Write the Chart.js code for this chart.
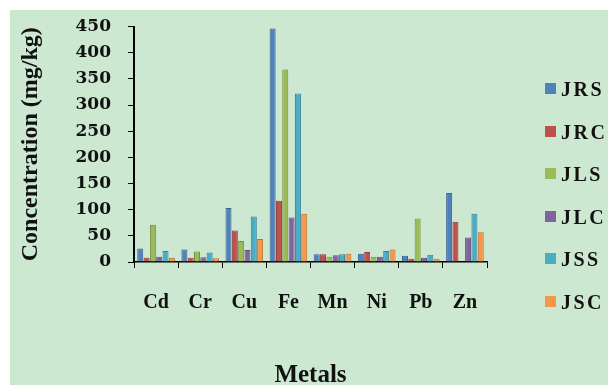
<!DOCTYPE html>
<html>
<head>
<meta charset="utf-8">
<script src="https://cdn.jsdelivr.net/npm/chart.js@4.4.1/dist/chart.umd.min.js"></script>
<style>
  html, body { margin: 0; padding: 0; background: #ffffff; }
  #wrap { position: absolute; left: 10px; top: 10px; width: 598px; height: 375px; background: #cde8d0; }
  #legend { position: absolute; left: 535px; top: 68px; font: bold 20px "Liberation Serif", serif; color: #111; letter-spacing: 2.5px; }
  #legend div { height: 42.5px; display: flex; align-items: flex-start; }
  #legend span.box { display: inline-block; width: 11px; height: 11px; margin: 5px 5px 0 0; }
</style>
</head>
<body>
<div id="wrap">
  <canvas id="chart" width="598" height="375"></canvas>
  <div id="legend"></div>
</div>
<script>
// metals on the x axis
const metals = ['Cd', 'Cr', 'Cu', 'Fe', 'Mn', 'Ni', 'Pb', 'Zn'];
const seriesNames = ['JRS', 'JRC', 'JLS', 'JLC', 'JSS', 'JSC'];
const seriesColors = ['#4f81bd', '#c0504d', '#9bbb59', '#8064a2', '#4bacc6', '#f79646'];

// concentration (mg/kg)
const JRS = [26, 24, 103, 446, 15, 16, 12, 132];
const JRC = [8, 8, 60, 117, 15, 19, 6, 77];
const JLS = [71, 20, 40, 368, 10, 10, 83, 0];
const JLC = [10, 9, 23, 85, 13, 10, 8, 47];
const JSS = [21, 18, 87, 322, 15, 21, 14, 92];
const JSC = [8, 7, 44, 92, 16, 24, 6, 57];
const yTicks = [0, 50, 100, 150, 200, 250, 300, 350, 400, 450];

const allValues = [JRS, JRC, JLS, JLC, JSS, JSC];
const serif = '"Liberation Serif", "Times New Roman", serif';

function darker(hex) {
  const n = parseInt(hex.slice(1), 16);
  const r = Math.round(((n >> 16) & 255) * 0.75);
  const g = Math.round(((n >> 8) & 255) * 0.75);
  const b = Math.round((n & 255) * 0.75);
  return `rgb(${r},${g},${b})`;
}

const datasets = seriesNames.map((name, i) => ({
  label: name,
  data: allValues[i],
  backgroundColor: seriesColors[i],
  borderColor: darker(seriesColors[i]),
  borderWidth: 1,
  categoryPercentage: 0.86,
  barPercentage: 0.95
}));

new Chart(document.getElementById('chart'), {
  type: 'bar',
  data: { labels: metals, datasets: datasets },
  options: {
    responsive: false,
    animation: false,
    layout: { padding: { top: 4, right: 121, left: 0, bottom: 0 } },
    plugins: { legend: { display: false }, tooltip: { enabled: false } },
    scales: {
      x: {
        afterFit: s => { s.height = 123; },
        grid: { drawOnChartArea: false, color: '#000', tickLength: 6, lineWidth: 1 },
        border: { color: '#000', width: 1.5 },
        ticks: { color: '#111', padding: 23, font: { family: serif, size: 20, weight: 'bold' } },
        title: { display: true, text: 'Metals', color: '#111', padding: { top: 0, bottom: -6 },
                 font: { family: serif, size: 25, weight: 'bold' } }
      },
      y: {
        min: 0, max: 450,
        afterFit: s => { s.width = 124; s.paddingTop = 16.5; s.paddingBottom = 0; },
        afterBuildTicks: s => { s.ticks = yTicks.map(v => ({ value: v })); },
        grid: { drawOnChartArea: false, color: '#000', tickLength: 6 },
        border: { color: '#000', width: 2 },
        ticks: { color: '#111', padding: 17, font: { family: '"DejaVu Serif", serif', size: 17, weight: 'bold' } },
        title: { display: true, text: 'Concentration (mg/kg)', color: '#111', padding: { top: 6, bottom: 0 },
                 font: { family: serif, size: 24, weight: 'bold' } }
      }
    }
  }
});

const legend = document.getElementById('legend');
seriesNames.forEach((name, i) => {
  const row = document.createElement('div');
  row.innerHTML = `<span class="box" style="background:${seriesColors[i]}"></span>${name}`;
  legend.appendChild(row);
});
</script>
</body>
</html>
